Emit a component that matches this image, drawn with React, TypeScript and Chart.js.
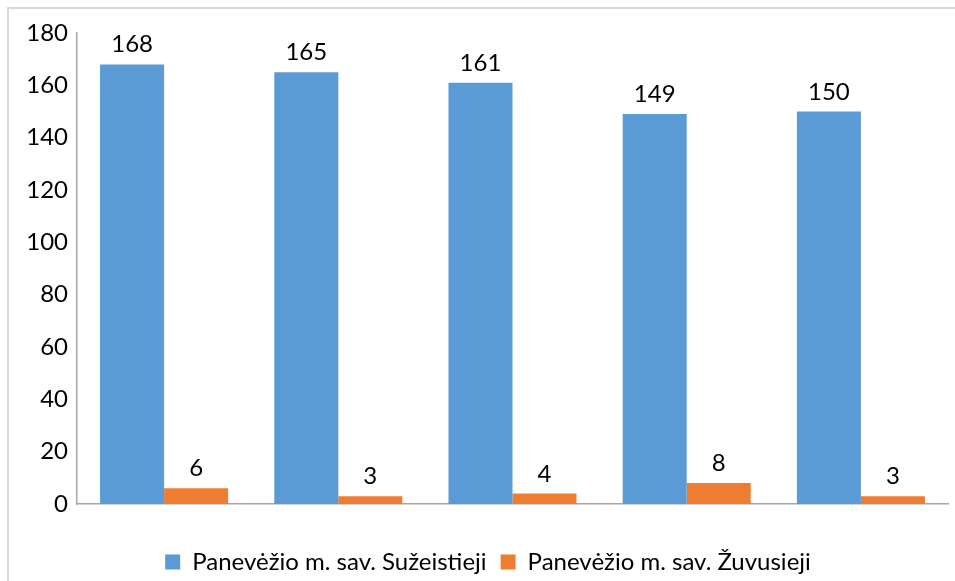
import React, { useEffect, useRef } from "react";
import { Chart, registerables } from "chart.js";

Chart.register(...registerables);

const categories = ["1", "2", "3", "4", "5"];
const injured = [168, 165, 161, 149, 150];
const killed = [6, 3, 4, 8, 3];
const seriesNames = ["Panevėžio m. sav. Sužeistieji", "Panevėžio m. sav. Žuvusieji"];
const yTicks = [0, 20, 40, 60, 80, 100, 120, 140, 160, 180];

const frame = {
  id: "frame",
  beforeDraw(chart: any) {
    const ctx = chart.ctx;
    ctx.save();
    ctx.fillStyle = "#ffffff";
    ctx.fillRect(0, 0, chart.width, chart.height);
    ctx.strokeStyle = "#d9d9d9";
    ctx.lineWidth = 2;
    ctx.beginPath();
    ctx.moveTo(8, chart.height);
    ctx.lineTo(8, 8);
    ctx.lineTo(chart.width, 8);
    ctx.stroke();
    ctx.restore();
  },
};

const labels = {
  id: "valueLabels",
  afterDatasetsDraw(chart: any) {
    const ctx = chart.ctx;
    ctx.save();
    ctx.font = "24px Lato, sans-serif";
    ctx.fillStyle = "#000000";
    ctx.textAlign = "center";
    ctx.textBaseline = "alphabetic";
    chart.data.datasets.forEach((ds: any, i: number) => {
      const meta = chart.getDatasetMeta(i);
      meta.data.forEach((bar: any, j: number) => {
        ctx.fillText(String(ds.data[j]), bar.x, bar.y - 12);
      });
    });
    ctx.restore();
  },
};

export default function App() {
  const ref = useRef<HTMLCanvasElement>(null);
  useEffect(() => {
    if (!ref.current) return;
    const chart = new Chart(ref.current, {
      type: "bar",
      data: {
        labels: categories,
        datasets: [
          { label: seriesNames[0], data: injured, backgroundColor: "#5b9bd5" },
          { label: seriesNames[1], data: killed, backgroundColor: "#ed7d31" },
        ],
      },
      options: {
        animation: false,
        responsive: false,
        layout: { padding: { left: 28, right: 7, top: 33, bottom: 0 } },
        datasets: { bar: { categoryPercentage: 0.735, barPercentage: 1 } },
        scales: {
          x: {
            grid: { display: false },
            ticks: { display: false },
            border: { display: true, color: "#a6a6a6", width: 1.5 },
            afterFit(scale: any) {
              scale.height = 32;
            },
          },
          y: {
            min: 0,
            max: 180,
            afterBuildTicks(scale: any) {
              scale.ticks = yTicks.map((v) => ({ value: v }));
            },
            grid: { display: false, drawTicks: false },
            border: { display: true, color: "#a6a6a6", width: 1.5 },
            ticks: {
              padding: 9,
              color: "#000000",
              font: { family: "Lato", size: 24 },
            },
            afterFit(scale: any) {
              scale.width = 49;
            },
          },
        },
        plugins: {
          tooltip: { enabled: false },
          legend: {
            position: "bottom",
            maxHeight: 45,
            labels: {
              color: "#000000",
              font: { family: "Lato", size: 24 },
              boxWidth: 15,
              boxHeight: 15,
              padding: 14,
            },
          },
        },
      },
      plugins: [frame, labels],
    });
    return () => chart.destroy();
  }, []);
  return (
    <div style={{ position: "fixed", left: 0, top: 0, width: 955, height: 581 }}>
      <canvas ref={ref} width={955} height={581} />
    </div>
  );
}
